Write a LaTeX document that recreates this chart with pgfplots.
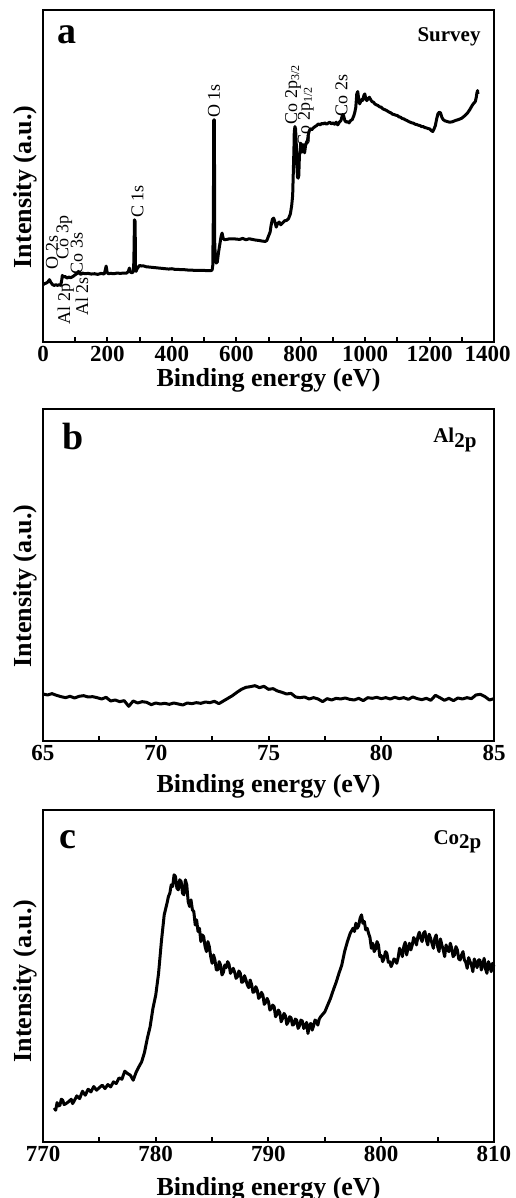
\documentclass[border=0pt]{standalone}
\usepackage{fontspec}
\setmainfont{Liberation Serif}
\usepackage{pgfplots}
\pgfplotsset{compat=1.18}
\pgfplotsset{xps/.style={
  scale only axis, width=225.5pt, height=166pt,
  axis line style={line width=1.4pt},
  ytick=\empty, xtick pos=bottom, tick align=inside,
  major tick length=2.5pt, minor tick length=2.5pt,
  every tick/.style={line width=1pt, black},
  xticklabel style={font=\bfseries\fontsize{11.5}{13}\selectfont, inner sep=0pt, yshift=-2pt},
  /pgf/number format/assume math mode=true,
  /pgf/number format/1000 sep={},
  label style={font=\bfseries\fontsize{13}{15}\selectfont},
  ylabel={Intensity (a.u.)},
  xlabel={Binding energy (eV)},
  clip=false,
}}
\begin{document}
\begin{tikzpicture}
\path[use as bounding box] (0,0) rectangle (257.5pt,599pt);
% ---------------- panel a
\begin{axis}[xps, at={(21.5pt,428pt)}, anchor=south west,
  xmin=0, xmax=1400, ymin=0, ymax=997,
  xtick={0,200,...,1400}, minor xtick={100,300,...,1300},
  xticklabels={0,200,400,600,800,1000,1200,\hspace*{-6.5pt}1400},
  xlabel style={at={(axis description cs:0.5,-0.1145)}, anchor=center},
  ylabel style={at={(axis description cs:-0.040,0.467)}, anchor=center}]
\addplot[black, line width=1.5pt, line join=round] coordinates {
(0,172) (5,175) (10,177) (15,180) (20,187) (25,178) (30,172) (35,170) (40,172) (45,170) (50,172) (55,170) (58,185) (60,200) (63,195) (68,197) (75,192) (80,195) (85,193) (90,195) (95,198) (100,202) (105,205) (110,212) (113,206) (118,203) (122,207) (130,205) (140,206) (150,204) (160,205) (170,203) (180,206) (190,204) (193,215) (196,228) (199,210) (202,205) (210,206) (220,205) (230,207) (240,206) (250,207) (260,207) (265,212) (268,222) (271,210) (276,208) (280,210) (282,240) (284,367) (286,362) (287,230) (289,212) (292,220) (296,225) (300,230) (305,228) (310,229) (320,226) (330,225) (340,224) (350,223) (360,222) (370,221) (380,220) (390,219) (400,220) (410,218) (420,218) (430,217) (440,217) (450,216) (460,216) (470,215) (480,215) (490,215) (500,215) (510,214) (520,214) (525,216) (527,230) (529,400) (530,667) (532,667) (533,300) (535,250) (538,237) (541,240) (545,270) (550,300) (553,318) (556,327) (559,312) (563,307) (570,308) (580,310) (590,310) (600,309) (610,308) (620,311) (630,307) (640,310) (650,308) (660,306) (670,305) (680,303) (690,302) (695,305) (700,318) (705,330) (708,350) (712,368) (716,372) (720,360) (724,345) (728,355) (733,360) (738,352) (744,358) (750,364) (756,365) (762,370) (768,385) (772,410) (775,440) (777,510) (779,580) (780,630) (782,647) (784,640) (786,600) (788,530) (790,495) (792,492) (794,500) (796,560) (798,575) (800,597) (802,590) (804,570) (806,578) (808,590) (810,580) (812,568) (815,590) (818,600) (821,605) (824,625) (827,635) (830,640) (834,637) (838,642) (842,645) (846,648) (850,650) (855,655) (860,652) (865,656) (870,655) (875,658) (880,654) (885,657) (890,660) (895,655) (900,658) (905,654) (910,660) (915,652) (920,660) (925,665) (930,683) (933,680) (937,665) (941,660) (945,662) (950,658) (955,665) (960,668) (965,680) (968,690) (971,705) (974,745) (977,752) (980,730) (983,715) (986,722) (989,728) (992,725) (996,740) (999,745) (1002,730) (1005,725) (1009,730) (1013,735) (1017,728) (1021,722) (1026,720) (1030,715) (1035,712) (1040,710) (1045,706) (1050,705) (1055,700) (1060,698) (1065,696) (1070,693) (1075,690) (1080,688) (1085,684) (1090,683) (1095,681) (1100,680) (1105,676) (1110,675) (1115,671) (1120,670) (1125,667) (1130,665) (1135,662) (1140,660) (1145,658) (1150,657) (1155,654) (1160,653) (1165,651) (1170,650) (1175,647) (1180,647) (1185,644) (1190,643) (1195,641) (1200,640) (1205,635) (1210,632) (1214,640) (1218,650) (1222,670) (1226,685) (1230,690) (1234,688) (1238,675) (1242,668) (1248,664) (1255,662) (1262,660) (1270,661) (1280,665) (1290,668) (1300,672) (1310,680) (1318,688) (1325,698) (1332,710) (1338,718) (1342,722) (1345,735) (1347,748) (1349,755) (1350,745)
};
\node[anchor=west, inner sep=0pt, font=\bfseries\fontsize{19}{21}\selectfont] at (rel axis cs:0.031,0.925) {a};
\node[anchor=east, inner sep=0pt, font=\bfseries\fontsize{10.5}{12}\selectfont] at (rel axis cs:0.971,0.919) {Survey};
\begin{scope}[every node/.style={rotate=90, anchor=west, inner sep=0pt, font=\fontsize{9}{10}\selectfont}]
\node at (axis cs:531,672) {O 1s};
\node at (axis cs:293,372) {C 1s};
\node at (axis cs:776,652) {Co 2p\textsubscript{3/2}};
\node at (axis cs:816,587) {Co 2p\textsubscript{1/2}};
\node at (axis cs:927,677) {Co 2s};
\node at (axis cs:28,217) {O 2s};
\node at (axis cs:66,247) {Co 3p};
\node at (axis cs:105,202) {Co 3s};
\node at (axis cs:71,52) {Al 2p};
\node at (axis cs:121,77) {Al 2s};
\end{scope}
\end{axis}
% ---------------- panel b
\begin{axis}[xps, at={(21.5pt,228.5pt)}, anchor=south west,
  xmin=65, xmax=85, ymin=0, ymax=996,
  xtick={65,70,...,85}, minor xtick={67.5,72.5,77.5,82.5},
  xlabel style={at={(axis description cs:0.5,-0.1355)}, anchor=center},
  ylabel style={at={(axis description cs:-0.040,0.467)}, anchor=center}]
\addplot[black, line width=1.5pt, line join=round] coordinates {
(65.0,141) (65.2,138) (65.4,142) (65.6,137) (65.8,133) (66.0,130) (66.2,134) (66.4,129) (66.6,134) (66.8,136) (67.0,132) (67.2,133) (67.4,130) (67.6,126) (67.8,131) (68.0,120) (68.2,123) (68.4,118) (68.6,121) (68.8,104) (69.0,120) (69.2,114) (69.4,118) (69.6,116) (69.8,109) (70.0,114) (70.2,111) (70.4,113) (70.6,110) (70.8,114) (71.0,111) (71.2,108) (71.4,114) (71.6,112) (71.8,115) (72.0,113) (72.2,117) (72.4,115) (72.6,119) (72.8,112) (73.0,120) (73.2,128) (73.4,136) (73.6,146) (73.8,155) (74.0,161) (74.2,163) (74.4,166) (74.6,160) (74.8,164) (75.0,155) (75.2,157) (75.4,150) (75.6,146) (75.8,141) (76.0,143) (76.2,132) (76.4,130) (76.6,132) (76.8,126) (77.0,130) (77.2,126) (77.4,118) (77.6,127) (77.8,123) (78.0,128) (78.2,126) (78.4,129) (78.6,125) (78.8,123) (79.0,128) (79.2,121) (79.4,130) (79.6,128) (79.8,131) (80.0,127) (80.2,130) (80.4,126) (80.6,131) (80.8,127) (81.0,130) (81.2,125) (81.4,132) (81.6,127) (81.8,124) (82.0,128) (82.2,122) (82.4,137) (82.6,130) (82.8,122) (83.0,128) (83.2,121) (83.4,129) (83.6,126) (83.8,130) (84.0,127) (84.2,138) (84.4,140) (84.6,133) (84.8,123) (85.0,127)
};
\node[anchor=west, inner sep=0pt, font=\bfseries\fontsize{19}{21}\selectfont] at (rel axis cs:0.042,0.916) {b};
\node[anchor=east, inner sep=0pt, font=\bfseries\fontsize{10.5}{12}\selectfont] at (rel axis cs:0.962,0.907) {Al\raisebox{-0.45ex}{2p}};
\end{axis}
% ---------------- panel c
\begin{axis}[xps, at={(21.5pt,28pt)}, anchor=south west,
  xmin=770, xmax=810, ymin=0, ymax=994,
  xtick={770,780,...,810}, minor xtick={775,785,...,805},
  xlabel style={at={(axis description cs:0.5,-0.1420)}, anchor=center},
  ylabel style={at={(axis description cs:-0.040,0.485)}, anchor=center}]
\addplot[black, line width=1.5pt, line join=round] coordinates {
(771.00,102) (771.125,95) (771.25,118) (771.375,108) (771.50,110) (771.625,128) (771.75,125) (771.875,112) (772.00,114) (772.25,120) (772.50,128) (772.625,115) (772.75,122) (773.00,138) (773.25,130) (773.50,152) (773.75,140) (774.00,158) (774.25,150) (774.50,166) (774.75,155) (775.00,163) (775.25,170) (775.50,160) (775.75,172) (776.00,165) (776.25,180) (776.50,175) (776.75,192) (777.00,188) (777.25,212) (777.50,205) (777.75,200) (778.00,185) (778.25,208) (778.50,225) (778.75,240) (779.00,268) (779.25,310) (779.50,345) (779.75,400) (780.00,440) (780.25,505) (780.50,600) (780.75,680)
(781.00,715) (781.125,735) (781.25,745) (781.375,770) (781.50,765) (781.625,800) (781.75,795) (781.875,760) (782.00,755) (782.125,785) (782.25,780) (782.375,745) (782.50,740) (782.625,785) (782.75,770) (782.875,720) (783.00,705) (783.125,725) (783.25,695) (783.375,690) (783.50,650) (783.625,665) (783.75,630) (783.875,640) (784.00,600) (784.125,620) (784.25,615) (784.375,585) (784.50,570) (784.625,600) (784.75,585) (784.875,555) (785.00,535) (785.125,560) (785.25,545) (785.375,515) (785.50,515) (785.625,540) (785.75,530) (785.875,500) (786.00,508) (786.125,530) (786.25,522) (786.375,540) (786.50,532) (786.625,505) (786.75,512) (786.875,520) (787.00,508) (787.125,490) (787.25,495) (787.375,512) (787.50,505) (787.625,478) (787.75,480) (787.875,498) (788.00,485) (788.125,470) (788.25,462) (788.375,485) (788.50,472) (788.625,448) (788.75,450) (788.875,465) (789.00,455) (789.125,430) (789.25,435) (789.375,448) (789.50,440) (789.625,412) (789.75,418) (789.875,430) (790.00,420) (790.125,395) (790.25,400) (790.375,410) (790.50,405) (790.625,375) (790.75,382) (790.875,395) (791.00,388) (791.125,360) (791.25,370) (791.375,385) (791.50,378) (791.625,352) (791.75,360) (791.875,375) (792.00,372) (792.125,350) (792.25,352) (792.375,368) (792.50,365) (792.625,340) (792.75,348) (792.875,365) (793.00,362) (793.125,340) (793.25,345) (793.375,358) (793.50,325) (793.625,350) (793.75,355) (793.875,335) (794.00,348) (794.125,365) (794.25,362) (794.375,350) (794.50,368) (794.625,375) (794.75,380)
(795.00,390) (795.25,410) (795.50,430) (795.75,455) (796.00,478) (796.25,505) (796.50,530) (796.75,570) (797.00,600) (797.25,625) (797.50,640) (797.625,630) (797.75,655) (797.875,640) (798.00,648) (798.125,670) (798.25,680) (798.375,655) (798.50,660) (798.625,635) (798.75,640) (798.875,625) (799.00,612) (799.125,580) (799.25,595) (799.375,570) (799.50,578) (799.625,600) (799.75,590) (799.875,555) (800.00,558) (800.125,540) (800.25,550) (800.375,570) (800.50,565) (800.625,538) (800.75,540) (800.875,525) (801.00,535) (801.125,548) (801.25,545) (801.375,535) (801.50,552) (801.625,580) (801.75,570) (801.875,555) (802.00,585) (802.125,598) (802.25,560) (802.375,580) (802.50,595) (802.625,575) (802.75,590) (802.875,612) (803.00,605) (803.125,590) (803.25,615) (803.375,628) (803.50,610) (803.625,600) (803.75,625) (803.875,630) (804.00,605) (804.125,590) (804.25,622) (804.375,610) (804.50,595) (804.625,580) (804.75,610) (804.875,620) (805.00,585) (805.125,570) (805.25,608) (805.375,590) (805.50,575) (805.625,555) (805.75,590) (805.875,575) (806.00,570) (806.125,595) (806.25,580) (806.375,555) (806.50,560) (806.625,585) (806.75,575) (806.875,548) (807.00,545) (807.125,560) (807.25,570) (807.375,545) (807.50,538) (807.625,520) (807.75,552) (807.875,540) (808.00,530) (808.125,510) (808.25,548) (808.375,535) (808.50,522) (808.625,545) (808.75,545) (808.875,515) (809.00,530) (809.125,550) (809.25,518) (809.375,505) (809.50,540) (809.625,530) (809.75,510) (809.875,535) (810.00,525)
};
\node[anchor=west, inner sep=0pt, font=\bfseries\fontsize{19}{21}\selectfont] at (rel axis cs:0.036,0.91) {c};
\node[anchor=east, inner sep=0pt, font=\bfseries\fontsize{10.5}{12}\selectfont] at (rel axis cs:0.973,0.904) {Co\raisebox{-0.45ex}{2p}};
\end{axis}
\end{tikzpicture}
\end{document}
